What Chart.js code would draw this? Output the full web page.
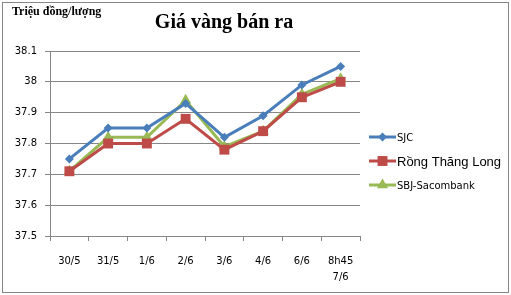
<!DOCTYPE html>
<html>
<head>
<meta charset="utf-8">
<script src="https://cdn.jsdelivr.net/npm/chart.js@4.4.0/dist/chart.umd.min.js"></script>
<style>
  html, body { margin: 0; padding: 0; background: #fff; }
  #wrap { position: relative; width: 511px; height: 295px; }
</style>
</head>
<body>
<div id="wrap"><canvas id="chartGold" width="511" height="295"></canvas></div>
<script>
// data
const categories = ['30/5', '31/5', '1/6', '2/6', '3/6', '4/6', '6/6', ['8h45', '7/6']];
const sjc = [37.75, 37.85, 37.85, 37.93, 37.82, 37.89, 37.99, 38.05];
const rongThangLong = [37.71, 37.80, 37.80, 37.88, 37.78, 37.84, 37.95, 38.00];
const sbjSacombank = [37.71, 37.82, 37.82, 37.94, 37.79, 37.84, 37.96, 38.01];
const seriesNames = ['SJC', 'Rồng Thăng Long', 'SBJ-Sacombank'];
const yMin = 37.5, yMax = 38.1, yStep = 0.1;

const colors = ['#4A7EBB', '#BE4B48', '#98B954'];
const markers = ['rectRot', 'rect', 'triangle'];
const markerSize = [4.5, 7, 6.5];
const gridColor = '#868686';

// title, unit label, legend and frame
const decorPlugin = {
  id: 'decor',
  afterDraw(chart) {
    const ctx = chart.ctx;
    ctx.save();

    ctx.strokeStyle = gridColor;
    ctx.lineWidth = 1;
    ctx.strokeRect(2.5, 2.5, 506, 290);

    ctx.fillStyle = '#000';
    ctx.textBaseline = 'middle';
    ctx.font = 'bold 12px "Liberation Serif"';
    ctx.textAlign = 'left';
    ctx.fillText('Triệu đồng/lượng', 12, 12);

    ctx.font = 'bold 20px "Liberation Serif"';
    ctx.textAlign = 'center';
    ctx.fillText('Giá vàng bán ra', 224, 23);

    let legendY = [137, 161, 185];
    let fonts = ['10px "DejaVu Sans"', '13px "Liberation Sans"', '10px "DejaVu Sans"'];
    seriesNames.forEach((name, i) => {
      let y = legendY[i];
      ctx.strokeStyle = colors[i];
      ctx.lineWidth = 3;
      ctx.beginPath();
      ctx.moveTo(369, y);
      ctx.lineTo(396, y);
      ctx.stroke();
      ctx.fillStyle = colors[i];
      Chart.helpers.drawPoint(ctx, {
        pointStyle: markers[i],
        radius: markerSize[i],
        rotation: 0,
        borderWidth: 0
      }, 382.5, y);
      ctx.fillStyle = '#000';
      ctx.font = fonts[i];
      ctx.textAlign = 'left';
      ctx.fillText(name, 397, y + 1);
    });

    ctx.restore();
  }
};

let chartLine = document.getElementById('chartGold').getContext('2d');

new Chart(chartLine, {
  type: 'line',
  data: {
    labels: categories,
    datasets: [sjc, rongThangLong, sbjSacombank].map((values, i) => ({
      label: seriesNames[i],
      data: values,
      borderColor: colors[i],
      backgroundColor: colors[i],
      borderWidth: 3,
      pointStyle: markers[i],
      pointRadius: markerSize[i],
      pointBorderWidth: 0,
      pointBackgroundColor: colors[i],
      tension: 0
    }))
  },
  options: {
    responsive: false,
    animation: false,
    layout: { padding: { top: 51, right: 151, left: 0, bottom: 0 } },
    plugins: {
      legend: { display: false },
      title: { display: false },
      tooltip: { enabled: false }
    },
    scales: {
      x: {
        offset: true,
        afterFit: (scale) => { scale.height = 59; },
        grid: {
          offset: true,
          drawOnChartArea: false,
          drawTicks: true,
          tickLength: 5,
          color: gridColor
        },
        border: { color: gridColor, width: 1 },
        ticks: {
          color: '#000',
          font: { family: '"DejaVu Sans"', size: 10, lineHeight: 1.6 },
          padding: 12,
          maxRotation: 0,
          autoSkip: false
        }
      },
      y: {
        min: yMin,
        max: yMax,
        afterFit: (scale) => { scale.width = 50; },
        grid: {
          color: gridColor,
          tickLength: 5
        },
        border: { color: gridColor, width: 1 },
        ticks: {
          stepSize: yStep,
          color: '#000',
          font: { family: '"DejaVu Sans"', size: 10 },
          padding: 8,
          callback: (v) => String(parseFloat(v.toFixed(1)))
        }
      }
    }
  },
  plugins: [decorPlugin]
});
</script>
</body>
</html>
